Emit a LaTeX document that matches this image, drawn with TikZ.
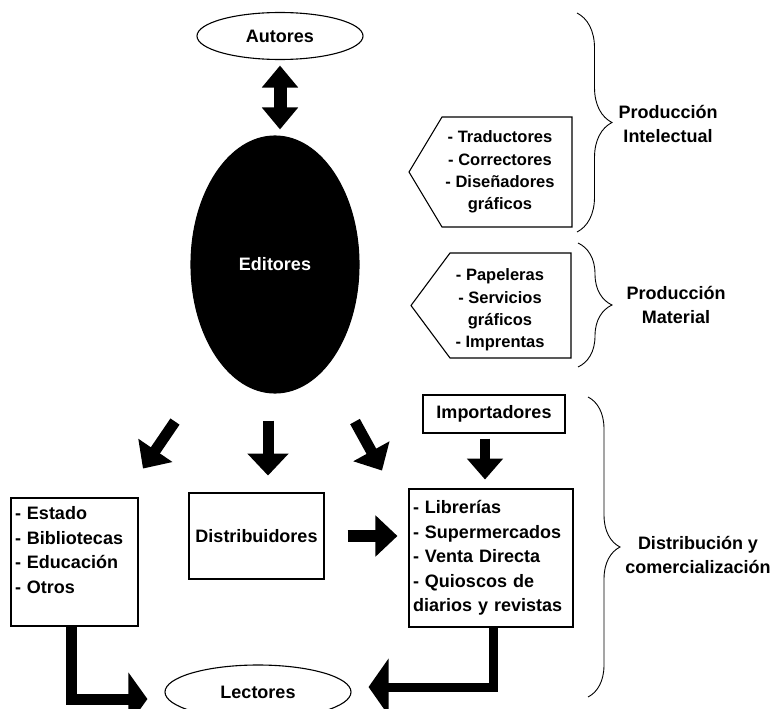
\documentclass[tikz,border=0pt]{standalone}
\usepackage{fontspec}
\setmainfont{Liberation Sans}
\usetikzlibrary{arrows.meta,shapes.geometric,decorations.pathreplacing,calc}
\begin{document}
\begin{tikzpicture}[x=1pt,y=-1pt,
  every node/.style={font=\bfseries\fontsize{18}{24.5}\selectfont},
  box/.style={draw,line width=1.1pt,inner sep=4pt},
  oval/.style={draw,line width=1.1pt,ellipse,inner sep=0pt},
  small/.style={align=center,font=\bfseries\fontsize{16.5}{22.3}\selectfont},
  blockarrow/.style={line width=11pt,-{Triangle[width=40pt,length=22pt]}},
  elbow/.style={line join=miter,-{Triangle[width=52pt,length=19pt]}},
  bracel/.style={decorate,decoration={brace,amplitude=#1},line width=0.9pt}]
\useasboundingbox (0,0) rectangle (779,709);
\clip (0,0) rectangle (779,709);
\node[oval,minimum width=166pt,minimum height=47pt] (autores) at (280,36) {Autores};
\node[oval,fill=black,text=white,minimum width=168pt,minimum height=257pt] (editores) at (275,264.5) {Editores};
\node[small] (intel) at (500,172) {- Traductores\\- Correctores\\- Diseñadores\\gráficos};
\node[small] (mater) at (500,310) {- Papeleras\\- Servicios\\gráficos\\- Imprentas};
\node[box,minimum width=142pt,minimum height=38pt] (import) at (494,414) {Importadores};
\node[box,align=left,text width=119pt,minimum height=128pt] (estado) at (74.5,562) {- Estado\\- Bibliotecas\\- Educación\\- Otros\\\mbox{}};
\node[box,minimum width=135pt,minimum height=86pt] (distrib) at (256.5,536) {Distribuidores};
\node[box,align=left,text width=156pt,minimum height=138pt] (librer) at (491,558) {- Librerías\\- Supermercados\\- Venta Directa\\- Quioscos de\\diarios y revistas};
\node[oval,minimum width=186pt,minimum height=54pt] (lectores) at (258,692) {Lectores};
% pentagonos
\draw[line width=1.1pt] (572,117) -- (442,117) -- (409,172) -- (442,227) -- (572,227) -- cycle;
\draw[line width=1.1pt] (571,253) -- (450,253) -- (411,305.5) -- (450,358) -- (571,358) -- cycle;
% llaves
\draw[bracel=35pt] (577,13) -- (577,232);
\draw[bracel=34pt] (578,243) -- (578,367);
\draw[bracel=32pt] (588,397) -- (588,697);
\node[align=center] (prodint) at (668,124) {Producción\\Intelectual};
\node[align=center] (prodmat) at (676,305) {Producción\\Material};
\node[align=center] (distcom) at (698,555) {Distribución y\\comercialización};
% flechas
\draw[line width=13pt,{Triangle[width=35pt,length=22pt]}-{Triangle[width=35pt,length=22pt]}] ($(autores.south)+(0,5.5)$) -- ($(autores.south |- editores.north)+(0,-6)$);
\draw[blockarrow] ($(editores.south)+(-100,28)$) -- ($(editores.south)+(-132,75)$);
\draw[blockarrow] ($(editores.south)+(-7,27)$) -- ($(editores.south)+(-7,82)$);
\draw[blockarrow] ($(editores.south)+(80,28)$) -- ($(editores.south)+(107,77)$);
\draw[line width=10pt,-{Triangle[width=35pt,length=21pt]}] ($(import.south)+(-9,5)$) -- ($(import.south)+(-9,46)$);
\draw[blockarrow,line width=12pt,shorten <=23pt,shorten >=11pt] (distrib.east) -- (distrib.east -| librer.west);
\draw[elbow,line width=11pt] ($(estado.south)+(-3,0)$) |- ($(lectores.west)+(-17,7)$);
\draw[elbow,line width=9pt,-{Triangle[width=56pt,length=20pt]}] ($(librer.south)+(2,0)$) |- ($(lectores.east)+(17,-5)$);
\end{tikzpicture}
\end{document}
